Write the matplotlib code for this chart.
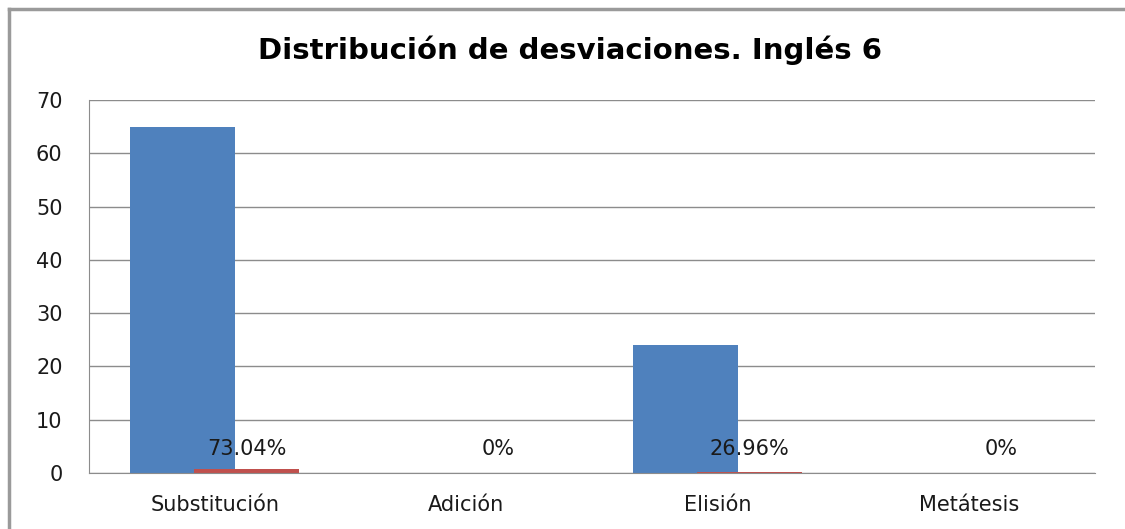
import matplotlib
matplotlib.use("Agg")
import matplotlib.pyplot as plt
import numpy as np
from matplotlib.lines import Line2D

categories = ["Substitución", "Adición", "Elisión", "Metátesis"]
counts = [65, 0, 24, 0]
shares = [0.7304, 0, 0.2696, 0]
share_labels = ["73.04%", "0%", "26.96%", "0%"]
yticks = [0, 10, 20, 30, 40, 50, 60, 70]
title = "Distribución de desviaciones. Inglés 6"

W, H = 1125, 529
fig = plt.figure(figsize=(W / 100, H / 100), dpi=100)
ax = fig.add_axes([89 / W, 1 - 473 / H, (1095 - 89) / W, (473 - 100) / H])

x = np.arange(len(categories))
bw = 105 / 251.5
off = 32 / 251.5
ax.bar(x - off, counts, width=bw, color="#4F81BD", zorder=3)
ax.bar(x + off, shares, width=bw, color="#C0504D", zorder=4)
for xi, lab in zip(x, share_labels):
    ax.text(xi + off, 4.5, lab, ha="center", va="center", fontsize=15,
            color="#1a1a1a", family="DejaVu Sans", zorder=6)

ax.set_xlim(-0.5, len(categories) - 0.5)
ax.set_ylim(0, 70)
ax.set_yticks(yticks)
ax.set_xticks(x)
ax.set_xticklabels(categories, fontsize=15, color="#1a1a1a")
ax.tick_params(axis="x", length=0, pad=16)
ax.tick_params(axis="y", length=0, labelsize=15, labelcolor="#1a1a1a", pad=19)
ax.grid(axis="y", color="#8c8c8c", linewidth=1, zorder=0)
for s in ["top", "right"]:
    ax.spines[s].set_visible(False)
for s in ["left", "bottom"]:
    ax.spines[s].set_color("#8c8c8c")
    ax.spines[s].set_zorder(5)

fig.text(570 / W, 1 - 50 / H, title, ha="center", va="center",
         fontsize=21, fontweight="bold", family="DejaVu Sans", color="black")

# outer frame (top and left edges visible)
fig.add_artist(Line2D([9 / W, 1], [1 - 9 / H, 1 - 9 / H], color="#9a9a9a",
                      linewidth=2.5, transform=fig.transFigure))
fig.add_artist(Line2D([9 / W, 9 / W], [0, 1 - 9 / H], color="#9a9a9a",
                      linewidth=2.5, transform=fig.transFigure))

fig.savefig("out.png", dpi=100)
